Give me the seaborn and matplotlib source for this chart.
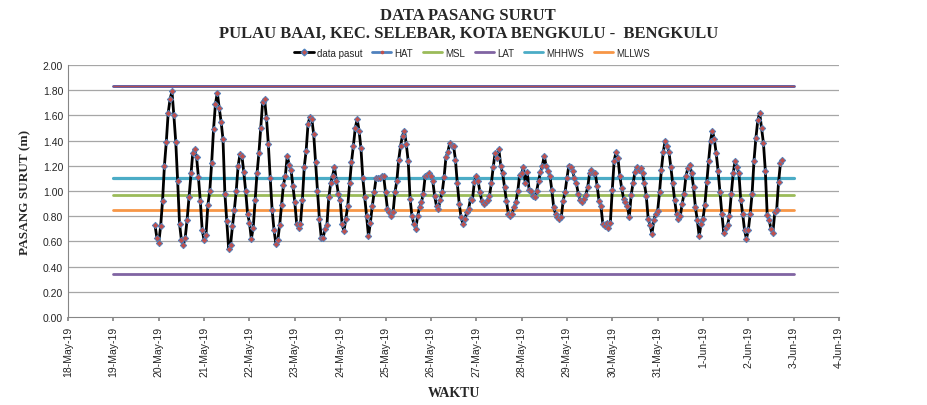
import pandas as pd
import numpy as np
import matplotlib
matplotlib.use("Agg")
import matplotlib.pyplot as plt
import matplotlib.dates as mdates
from matplotlib.lines import Line2D
import seaborn as sns

# hourly tide readings (m), starting 19-May-2019 22:00
tide_values = [
    0.73, 0.63, 0.59, 0.72, 0.92, 1.20, 1.39, 1.62, 1.73, 1.79, 1.60, 1.39,
    1.08, 0.74, 0.61, 0.57, 0.63, 0.77, 0.95, 1.14, 1.30, 1.33, 1.27, 1.11,
    0.92, 0.69, 0.61, 0.65, 0.89, 1.00, 1.22, 1.49, 1.69, 1.78, 1.66, 1.55,
    1.41, 0.98, 0.76, 0.54, 0.57, 0.72, 0.85, 1.00, 1.20, 1.29, 1.28, 1.15,
    1.00, 0.82, 0.75, 0.62, 0.71, 0.93, 1.14, 1.30, 1.50, 1.71, 1.73, 1.58,
    1.37, 1.10, 0.85, 0.69, 0.58, 0.61, 0.73, 0.89, 1.05, 1.12, 1.28, 1.21,
    1.17, 1.04, 0.91, 0.74, 0.71, 0.74, 0.93, 1.19, 1.32, 1.53, 1.59, 1.57,
    1.45, 1.23, 1.00, 0.78, 0.63, 0.63, 0.70, 0.73, 0.95, 1.06, 1.12, 1.19,
    1.08, 0.98, 0.93, 0.74, 0.68, 0.78, 0.88, 1.06, 1.23, 1.36, 1.50, 1.57,
    1.48, 1.34, 1.10, 0.95, 0.80, 0.64, 0.75, 0.88, 0.99, 1.10, 1.10, 1.10,
    1.12, 1.12, 0.99, 0.86, 0.83, 0.80, 0.83, 0.99, 1.08, 1.25, 1.36, 1.44,
    1.48, 1.37, 1.24, 0.94, 0.80, 0.74, 0.70, 0.80, 0.87, 0.91, 0.98, 1.12,
    1.13, 1.14, 1.12, 1.08, 0.96, 0.88, 0.86, 0.93, 0.99, 1.11, 1.27, 1.31,
    1.38, 1.36, 1.36, 1.25, 1.06, 0.90, 0.79, 0.74, 0.78, 0.83, 0.86, 0.94,
    0.93, 1.07, 1.12, 1.08, 0.99, 0.92, 0.90, 0.91, 0.93, 0.96, 1.06, 1.19,
    1.30, 1.26, 1.33, 1.20, 1.14, 1.03, 0.92, 0.82, 0.80, 0.82, 0.87, 0.91,
    1.00, 1.13, 1.14, 1.19, 1.06, 1.15, 1.01, 1.00, 0.96, 0.95, 1.00, 1.08,
    1.15, 1.20, 1.28, 1.20, 1.16, 1.12, 1.01, 0.87, 0.82, 0.79, 0.78, 0.79,
    0.92, 0.99, 1.10, 1.20, 1.19, 1.16, 1.10, 1.06, 0.98, 0.93, 0.91, 0.94,
    0.97, 1.03, 1.14, 1.17, 1.14, 1.14, 1.04, 0.92, 0.88, 0.74, 0.72, 0.75,
    0.71, 0.75, 1.01, 1.24, 1.31, 1.26, 1.12, 1.02, 0.94, 0.91, 0.88, 0.79,
    0.97, 1.06, 1.15, 1.19, 1.17, 1.18, 1.14, 1.06, 0.96, 0.78, 0.73, 0.66,
    0.77, 0.82, 0.84, 0.99, 1.17, 1.31, 1.40, 1.36, 1.31, 1.19, 1.06, 0.93,
    0.82, 0.78, 0.80, 0.90, 0.98, 1.12, 1.18, 1.21, 1.14, 1.03, 0.87, 0.77,
    0.64, 0.74, 0.78, 0.89, 1.07, 1.24, 1.40, 1.48, 1.41, 1.30, 1.16, 0.99,
    0.82, 0.67, 0.71, 0.73, 0.80, 0.98, 1.14, 1.24, 1.19, 1.14, 0.93, 0.82,
    0.69, 0.62, 0.69, 0.82, 0.98, 1.24, 1.42, 1.56, 1.62, 1.50, 1.38, 1.16,
    0.81, 0.77, 0.70, 0.67, 0.83, 0.85, 1.07, 1.22, 1.25,
]
tide_start = "2019-05-19 22:00"

# tidal datum levels (m)
level_names = ["HAT", "MSL", "LAT", "MHHWS", "MLLWS"]
level_values = [1.83, 0.97, 0.34, 1.10, 0.85]
level_start = "2019-05-19 00:00"
level_end = "2019-06-03 00:00"

x_min, x_max = "2019-05-18", "2019-06-04"

# colours (Excel 2010 palette)
colors = {
    "HAT": "#4f81bd",
    "MSL": "#9bbb59",
    "LAT": "#8064a2",
    "MHHWS": "#4bacc6",
    "MLLWS": "#f79646",
}
red = "#c0504d"

sns.set_theme(style="white")
plt.rcParams['font.family'] = ['Liberation Sans', 'DejaVu Sans']

df = pd.DataFrame({
    "time": pd.date_range(tide_start, periods=len(tide_values), freq="h"),
    "level": tide_values,
})
ref_time = pd.date_range(level_start, level_end, freq="h")

fig = plt.figure(figsize=(9.27, 4.06), dpi=100)
ax = fig.add_axes([0.0734, 0.2167, 0.8317, 0.6207])

# horizontal grid
for yv in np.arange(0.2, 2.01, 0.2):
    ax.axhline(yv, color="#a6a6a6", lw=0.9, zorder=0)

# datum lines
for name, val in zip(level_names, level_values):
    ref_df = pd.DataFrame({"time": ref_time, "level": val})
    if name == "HAT":
        sns.lineplot(data=ref_df, x="time", y="level", ax=ax, color="#5a4f96",
                     lw=2.0, zorder=2)
        ax.plot(ref_df["time"], ref_df["level"], color=red, lw=0.6, zorder=2)
    else:
        sns.lineplot(data=ref_df, x="time", y="level", ax=ax, color=colors[name],
                     lw=2.3 if name == "MHHWS" else 2.0, zorder=2)

# observed tide
sns.lineplot(data=df, x="time", y="level", ax=ax, color="black", lw=2.0,
             marker="D", markersize=3.3, markerfacecolor=red,
             markeredgecolor=colors["HAT"], markeredgewidth=0.6, zorder=3)

ax.set_xlim(pd.Timestamp(x_min), pd.Timestamp(x_max))
ax.set_ylim(0, 2.0)
ax.set_yticks(np.arange(0, 2.01, 0.2))
ax.yaxis.set_major_formatter(plt.FuncFormatter(lambda v, p: f"{v:.2f}"))
ax.xaxis.set_major_locator(mdates.DayLocator())
ax.xaxis.set_major_formatter(plt.FuncFormatter(
    lambda v, p: (lambda d: f"{d.day}-{d:%b-%y}")(mdates.num2date(v))))
ax.tick_params(axis="x", labelsize=7.5, rotation=90, length=3, color="#868686",
               direction="out", bottom=True)
ax.tick_params(axis="y", labelsize=7.5, length=0)
for s in ["top", "right"]:
    ax.spines[s].set_visible(False)
for s in ["left", "bottom"]:
    ax.spines[s].set_color("#868686")
    ax.spines[s].set_linewidth(0.8)

serif = ["Liberation Serif", "DejaVu Serif"]
ax.set_xlabel("WAKTU", fontsize=10, fontweight="bold", family=serif, labelpad=7)
ax.set_ylabel("PASANG SURUT (m)", fontsize=9.5, fontweight="bold", family=serif,
              labelpad=8)

fig.text(0.505, 0.96, "DATA PASANG SURUT", ha="center", va="center",
         fontsize=12, fontweight="bold", family=serif)
fig.text(0.505, 0.916, "PULAU BAAI, KEC. SELEBAR, KOTA BENGKULU -  BENGKULU",
         ha="center", va="center", fontsize=12, fontweight="bold", family=serif)

handles = [
    Line2D([], [], color="black", lw=2, marker="D", markersize=3.4,
           markerfacecolor=red, markeredgecolor=colors["HAT"]),
    Line2D([], [], color=colors["HAT"], lw=2, marker="o", markersize=1.6,
           markerfacecolor=red, markeredgecolor=red),
]
handles += [Line2D([], [], color=colors[n], lw=2) for n in level_names[1:]]
ax.legend(handles, ["data pasut"] + level_names, loc="lower center",
          bbox_to_anchor=(0.524, 0.995), ncol=6, frameon=False, fontsize=7,
          handlelength=2.0, columnspacing=1.0, handletextpad=0.3)

fig.savefig("out.png", dpi=100)
